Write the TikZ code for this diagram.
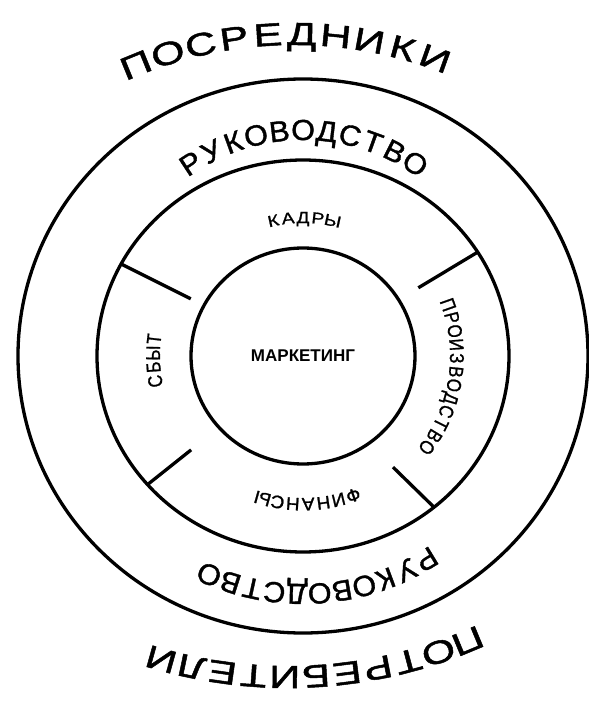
\documentclass[tikz,border=0pt]{standalone}
\usepackage{fontspec}
\setmainfont{Liberation Sans}
\newfontfamily\wideface[FakeStretch=1.35,FakeBold=1.5]{Liberation Sans}
\newfontfamily\plainface[FakeStretch=1.05,FakeBold=1.3]{Liberation Sans}
\newfontfamily\slimface[FakeStretch=0.85,FakeBold=1]{Liberation Sans}
\newfontfamily\smallface[FakeStretch=1.2,FakeBold=1]{Liberation Sans}
\newcommand\bigtext{\wideface\fontsize{32}{32}\selectfont}
\newcommand\ringtext{\plainface\fontsize{29}{29}\selectfont}
\newcommand\sidetext{\slimface\fontsize{20}{20}\selectfont}
\newcommand\smalltext{\smallface\fontsize{16}{16}\selectfont}
\newcommand\lowtext{\plainface\fontsize{18}{18}\selectfont}
\usetikzlibrary{calc,shapes.geometric}

\begin{document}
\begin{tikzpicture}[
      x=1pt, y=1pt,
      ring/.style={draw, line width=3.3pt},
      spoke/.style={line width=3.3pt},
      letter/.style={anchor=base, inner sep=0pt}
    ]
    \useasboundingbox (-303,-349) rectangle (286,356);
    % rings
    \draw[ring] (0,0) ellipse[x radius=285pt, y radius=277pt];
    \draw[ring] (0,0) ellipse[x radius=206pt, y radius=196pt];
    \node[ring, ellipse, minimum width=224pt, minimum height=216pt, inner sep=0pt,
          font=\bfseries\fontsize{17}{17}\selectfont] (mkt) at (0,0) {МАРКЕТИНГ};
    % spokes
    \draw[spoke] (152:206pt and 196pt) -- (153:126pt);
    \draw[spoke] (32:206pt and 196pt) -- (30.6:134pt);
    \draw[spoke] (221:206pt and 196pt) -- (220:146pt);
    \draw[spoke] (-50.5:206pt and 196pt) -- (-51:143pt);
    % outer labels
    \foreach \ch [count=\i, evaluate=\i as \a using 114.5-(\i-0.5)*4.65] in {П,О,С,Р,Е,Д,Н,И,К,И}
      \node[letter, font=\bigtext, rotate=\a-90] (top\i) at ($(-9,-97)+(\a:408pt)$) {\ch};
    \foreach \ch [count=\i, evaluate=\i as \a using -65.5-(\i-0.5)*3.83] in {П,О,Т,Р,Е,Б,И,Т,Е,Л,И}
      \node[letter, font=\bigtext, rotate=\a-90] (bot\i) at ($(-15,147)+(\a:457pt)$) {\ch};
    % middle band
    \foreach \ch [count=\i, evaluate=\i as \a using 126.5-(\i-0.5)*6.64] in {Р,У,К,О,В,О,Д,С,Т,В,О}
      \node[letter, font=\ringtext, rotate=\a-90] (rukA\i) at ($(0,21)+(\a:195pt)$) {\ch};
    \foreach \ch [count=\i, evaluate=\i as \a using -56-(\i-0.5)*5.45] in {Р,У,К,О,В,О,Д,С,Т,В,О}
      \node[letter, font=\ringtext, rotate=\a-90] (rukB\i) at (\a:228pt) {\ch};
    % inner band
    \foreach \ch [count=\i, evaluate=\i as \a using 105.5-(\i-0.5)*6.2] in {К,А,Д,Р,Ы}
      \node[letter, font=\smalltext, rotate=\a-90] (kad\i) at (\a:133pt) {\ch};
    \foreach \ch [count=\i, evaluate=\i as \a using 22-(\i-0.5)*5.08] in {П,Р,О,И,З,В,О,Д,С,Т,В,О}
      \node[letter, font=\sidetext, rotate=\a-90] (pro\i) at (\a:147pt) {\ch};
    \foreach \ch [count=\i, evaluate=\i as \a using -67.2-(\i-0.5)*5.94] in {Ф,И,Н,А,Н,С,Ы}
      \node[letter, font=\lowtext, rotate=\a-90] (fin\i) at (\a:142pt) {\ch};
    \foreach \ch [count=\i, evaluate=\i as \a using 192.4-(\i-0.5)*5.4] in {С,Б,Ы,Т}
      \node[letter, font=\sidetext, rotate=\a-90] (sbt\i) at (\a:143pt) {\ch};
  \end{tikzpicture}
\end{document}
